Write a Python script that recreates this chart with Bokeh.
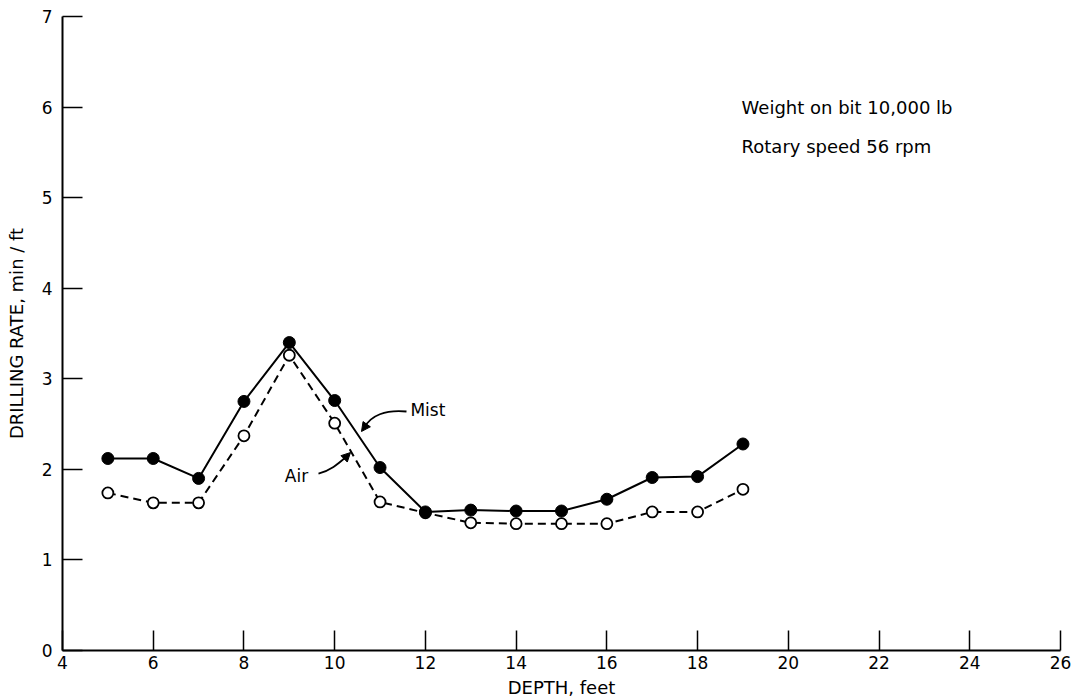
from bokeh.plotting import figure
from bokeh.models import Range1d, Label, Arrow, NormalHead, FixedTicker
from bokeh.embed import file_html
from bokeh.resources import INLINE

# ---- data ----
depth = [5, 6, 7, 8, 9, 10, 11, 12, 13, 14, 15, 16, 17, 18, 19]
mist_rate = [2.12, 2.12, 1.90, 2.75, 3.40, 2.76, 2.02, 1.53, 1.55, 1.54, 1.54, 1.67, 1.91, 1.92, 2.28]
air_rate = [1.74, 1.63, 1.63, 2.37, 3.26, 2.51, 1.64, 1.52, 1.41, 1.40, 1.40, 1.40, 1.53, 1.53, 1.78]
x_ticks = [4, 6, 8, 10, 12, 14, 16, 18, 20, 22, 24, 26]
y_ticks = [0, 1, 2, 3, 4, 5, 6, 7]

FONT = "DejaVu Sans"

p = figure(width=1084, height=700, output_backend="svg", toolbar_location=None,
           x_range=Range1d(4, 26), y_range=Range1d(0, 7),
           min_border_left=62, min_border_right=24, min_border_top=16, min_border_bottom=50)
p.outline_line_color = None
p.xgrid.visible = False
p.ygrid.visible = False
p.background_fill_color = "white"
p.border_fill_color = "white"

for ax, ticks in ((p.xaxis[0], x_ticks), (p.yaxis[0], y_ticks)):
    ax.ticker = FixedTicker(ticks=ticks)
    ax.major_tick_in = 20
    ax.major_tick_out = 0
    ax.minor_tick_in = 0
    ax.minor_tick_out = 0
    ax.axis_line_color = "black"
    ax.axis_line_width = 2
    ax.major_tick_line_color = "black"
    ax.major_tick_line_width = 1.5
    ax.major_label_text_font = FONT
    ax.major_label_text_font_size = "17px"
    ax.major_label_text_color = "black"
    ax.axis_label_text_font = FONT
    ax.axis_label_text_font_style = "normal"
    ax.axis_label_text_font_size = "18px"
    ax.axis_label_text_color = "black"

p.xaxis.axis_label = "DEPTH, feet"
p.yaxis.axis_label = "DRILLING RATE, min / ft"
p.xaxis.major_label_standoff = 5
p.xaxis.axis_label_standoff = 5
p.yaxis.major_label_standoff = 10
p.yaxis.axis_label_standoff = 12

# ---- series ----
p.line(depth, air_rate, line_color="black", line_width=2, line_dash="8 5")
p.line(depth, mist_rate, line_color="black", line_width=2)
p.scatter(depth, air_rate, size=11, marker="circle", fill_color="white",
          line_color="black", line_width=1.8)
p.scatter(depth, mist_rate, size=12, marker="circle", fill_color="black",
          line_color="black", line_width=1)

# ---- annotations ----
def lab(x, y, t, size="18px"):
    p.add_layout(Label(x=x, y=y, text=t, text_font=FONT, text_font_size=size,
                       text_color="black", text_align="left", text_baseline="middle"))

lab(18.97, 5.99, "Weight on bit 10,000 lb")
lab(18.97, 5.56, "Rotary speed 56 rpm")
lab(11.67, 2.65, "Mist", "17px")
lab(8.90, 1.93, "Air", "17px")

# curved leader for Mist
p.bezier(x0=[11.583], y0=[2.639], x1=[10.657], y1=[2.462],
         cx0=[11.120], cy0=[2.661], cx1=[10.790], cy1=[2.595],
         line_color="black", line_width=1.8)
p.add_layout(Arrow(end=NormalHead(size=9, fill_color="black", line_color="black"),
                   x_start=10.701, y_start=2.495, x_end=10.591, y_end=2.418,
                   line_color="black", line_width=1.8))

# curved leader for Air
p.bezier(x0=[9.643], y0=[1.954], x1=[10.238], y1=[2.131],
         cx0=[9.908], cy0=[1.987], cx1=[10.084], cy1=[2.065],
         line_color="black", line_width=1.8)
p.add_layout(Arrow(end=NormalHead(size=9, fill_color="black", line_color="black"),
                   x_start=10.194, y_start=2.109, x_end=10.349, y_end=2.186,
                   line_color="black", line_width=1.8))

open("out.html", "w").write(file_html(p, INLINE))
